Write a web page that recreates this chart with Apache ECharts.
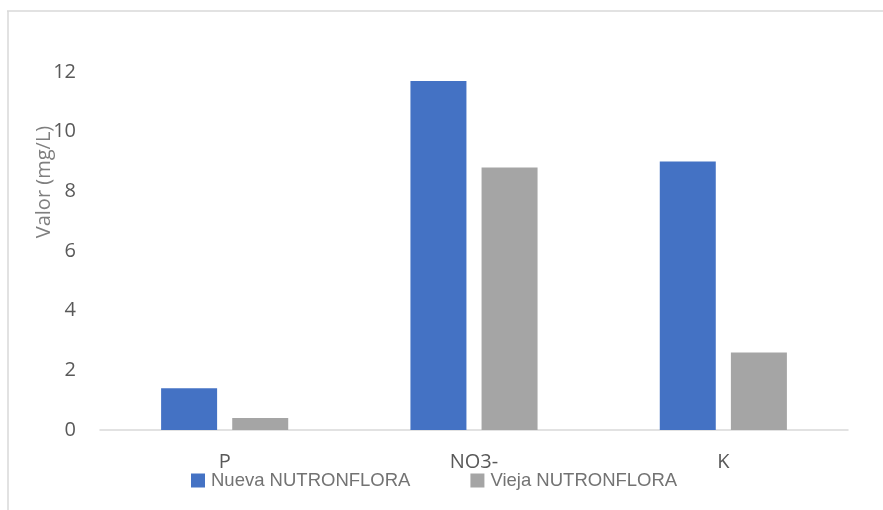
<!DOCTYPE html>
<html>
<head>
<meta charset="utf-8">
<script src="https://cdn.jsdelivr.net/npm/echarts@6/dist/echarts.min.js"></script>
<style>
  html, body { margin: 0; padding: 0; background: #ffffff; }
  #chart { width: 883px; height: 510px; }
</style>
</head>
<body>
<div id="chart"></div>
<script>
// Nutrient categories and measured concentrations (mg/L)
const categories = ['P', 'NO3-', 'K'];
const nuevaValues = [1.4, 11.7, 9.0];
const viejaValues = [0.4, 8.8, 2.6];
const seriesNames = ['Nueva NUTRONFLORA', 'Vieja NUTRONFLORA'];
const yAxisTitle = 'Valor (mg/L)';

const labelFont = '"Open Sans", "Noto Sans", sans-serif';
const legendFont = '"Liberation Sans", Arial, sans-serif';

const chart = echarts.init(document.getElementById('chart'), null, { renderer: 'canvas' });

chart.setOption({
  backgroundColor: '#ffffff',
  animation: false,
  grid: { left: 100, right: 35, top: 72, bottom: 80, containLabel: false },
  legend: {
    left: 191,
    top: 471,
    padding: 0,
    itemWidth: 14,
    itemHeight: 14,
    itemGap: 60,
    icon: 'rect',
    textStyle: { fontFamily: legendFont, fontSize: 18.5, color: '#737373', padding: [0, 0, 0, 1] },
    data: seriesNames
  },
  xAxis: {
    type: 'category',
    data: categories,
    axisLine: { show: true, lineStyle: { color: '#D9D9D9', width: 1.5 } },
    axisTick: { show: false },
    axisLabel: { fontFamily: labelFont, fontSize: 20, color: '#595959', margin: 22 }
  },
  yAxis: {
    type: 'value',
    min: 0,
    max: 12,
    interval: 2,
    axisLine: { show: false },
    axisTick: { show: false },
    splitLine: { show: false },
    axisLabel: { fontFamily: labelFont, fontSize: 20, color: '#595959', margin: 24 }
  },
  graphic: [
    // chart frame (top and left edges)
    { type: 'line', shape: { x1: 7, y1: 11, x2: 883, y2: 11 }, style: { stroke: '#D9D9D9', lineWidth: 1.5 }, silent: true },
    { type: 'line', shape: { x1: 8, y1: 11, x2: 8, y2: 510 }, style: { stroke: '#D9D9D9', lineWidth: 1.5 }, silent: true },
    {
      type: 'text',
      x: 44,
      y: 182,
      rotation: Math.PI / 2,
      style: {
        text: yAxisTitle,
        fontFamily: labelFont,
        fontSize: 20,
        fill: '#7F7F7F',
        textAlign: 'center',
        textVerticalAlign: 'middle'
      },
      silent: true
    }
  ],
  series: [
    {
      name: seriesNames[0],
      type: 'bar',
      data: nuevaValues,
      barWidth: 56,
      barGap: '27%',
      itemStyle: { color: '#4472C4' }
    },
    {
      name: seriesNames[1],
      type: 'bar',
      data: viejaValues,
      barWidth: 56,
      barGap: '27%',
      itemStyle: { color: '#A5A5A5' }
    }
  ]
});
</script>
</body>
</html>
